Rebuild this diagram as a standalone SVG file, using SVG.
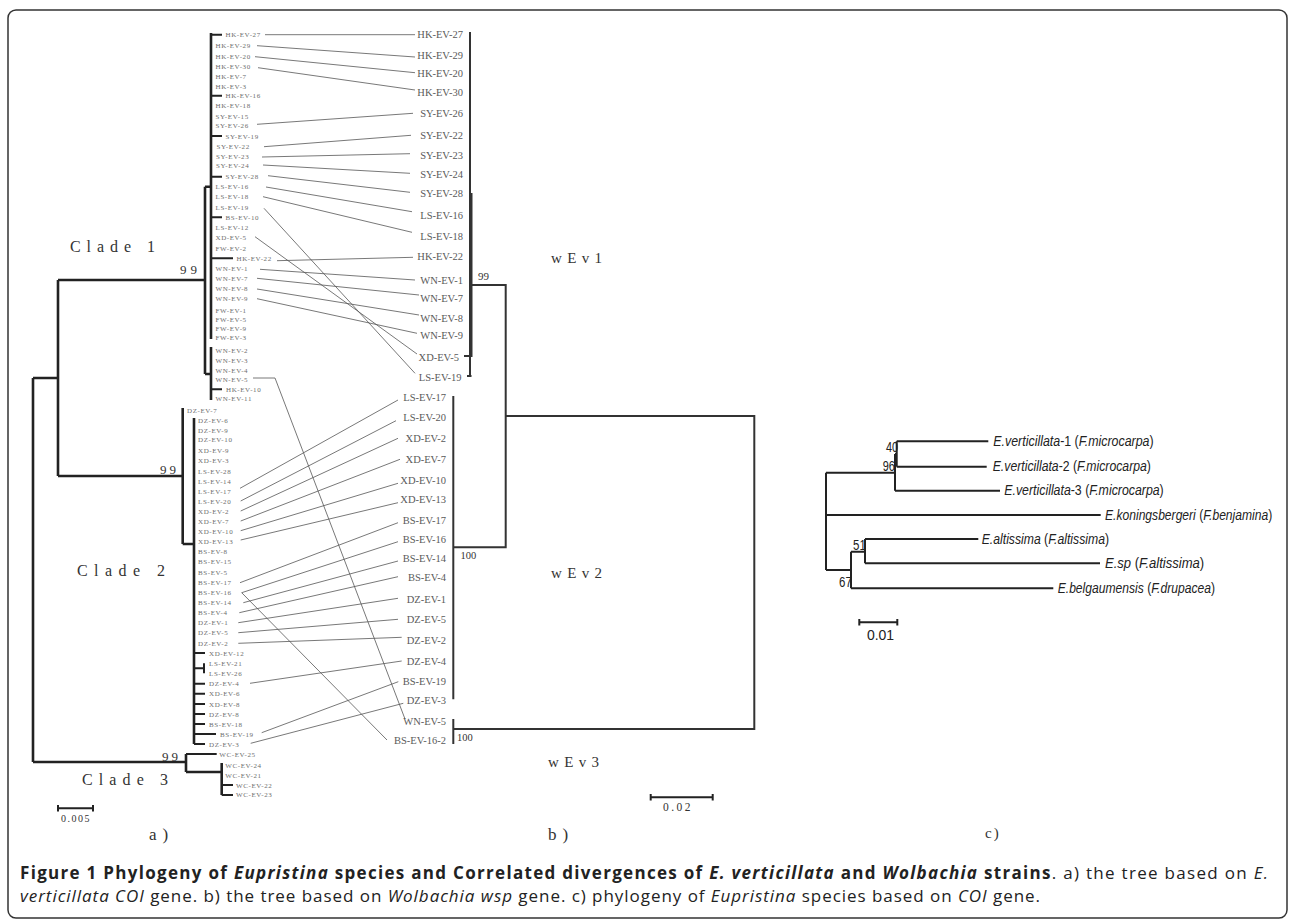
<svg xmlns="http://www.w3.org/2000/svg" width="1290" height="921" viewBox="0 0 1290 921">
<style>
.t{font-family:"Liberation Serif",serif;font-size:7px;fill:#6e6e6e;letter-spacing:0.6px}
.r{font-family:"Liberation Serif",serif;font-size:10.5px;fill:#5a5a5a;text-anchor:end}
.br{stroke:#222;stroke-width:2.6;fill:none}
.bs{stroke:#222;stroke-width:2;fill:none}
.bb{stroke:#333;stroke-width:2;fill:none}
.cn{stroke:#555;stroke-width:0.8;fill:none}
.cl{font-family:"Liberation Serif",serif;font-size:16px;fill:#333}
.bv{font-family:"Liberation Serif",serif;fill:#333}
.c{font-family:"Liberation Sans",Arial,sans-serif;font-size:14px;fill:#222}
.i{font-style:italic}
.cap{font-family:"Open Sans","Noto Sans",sans-serif;font-size:17px;fill:#222}
</style>
<rect x="8" y="10" width="1279" height="908" rx="8" fill="#fff" stroke="#333" stroke-width="1.5"/>

<g id="connectors">
<path class="cn" d="M265,34.7 L415,34.7 M257,45.7 L415,57 M255,56.7 L415,72.7 M258,67.7 L415,90 M257,124.3 L413,113.3 M264,146.7 L411,135.3 M262,157 L410,153.7 M263,165 L410,173.3 M268,175.7 L410,192.3 M266,187 L412,211.7 M263,196.7 L412,232.3 M264,208.3 L415,373.3 M255,236.7 L417,354 M277,260.7 L413,257.3 M260,269.3 L415,280 M257,278.3 L419,295 M257,289 L419,315 M257,298.7 L417,333.3 M253,378 L275,378 L405,719"/>
<path class="cn" d="M240,488.3 L398,400 M240.7,501 L396,420.7 M240.7,511 L398,438.3 M240.7,521 L400,459.3 M240.7,530.7 L398,483.3 M240.7,540 L398,502.7 M240,582.7 L398,522.7 M241.7,592.7 L398,541.7 M241.7,592.7 L387,740 M243.3,602.7 L398,561 M239.3,612.7 L398,576.7 M238.3,622.7 L398,598.3 M238.3,632.7 L398,619.3 M238.3,643.3 L401.7,637.3 M250,683.3 L401.7,661 M261.7,732.7 L398.3,681.7 M250.7,743.3 L403.3,703.3"/>
</g>

<g id="tree-a">
<path class="br" d="M33,378 V762 M33,378 H58 M58,280 V476 M58,280 H205 M205,186.7 V374 M205,186.7 H211 M205,374 H211 M211,33 V339 M211,347 V400"/>
<path class="bs" d="M211,34.7 H222 M211,95.7 H222 M211,136 H222 M211,176.7 H222 M211,217.3 H222 M211,258.3 H233 M211,389.3 H222"/>
<path class="br" d="M58,476 H182.7 M182.7,408 V544 M182.7,544 H194 M194,418 V744"/>
<path class="bs" d="M194,653 H205 M194,668.3 H204 M204,663.3 V673.3 M194,683.7 H205 M194,693.7 H205 M194,704 H205 M194,714 H205 M194,724 H205 M194,734 H216 M194,744 H205"/>
<path class="br" d="M33,762 H186 M186,754 V772 M186,772 H221.7 M221.7,763 V795"/>
<path class="bs" d="M186,754 H216.7 M221.7,785 H233 M221.7,795 H233"/>
</g>

<g id="tree-b">
<path class="bb" d="M470,32 V377"/>
<path class="bb" stroke-width="2.8" d="M471.5,193 V357"/>
<path class="bb" d="M464,356 H471 M467,376 H471.5 M470,285 H505.7 V547.3 H453.3 M453.3,396 V699.3 M453.3,719 V744 M505.7,416 H754.3 V729 H453.3"/>
</g>

<g id="tree-c">
<path class="bs" d="M826,472.7 V570 M826,472.7 H895 M895,454 V490.7 M895,454 H896.7 M896.7,441.3 V466.7 M896.7,441.3 H988.3 M896.7,466.7 H986.7 M895,490.7 H1000 M826,515 H1100.7 M826,570 H851 M851,551.7 V588.3 M851,551.7 H865 M865,539 V563.3 M865,539 H978.3 M865,563.3 H1100 M851,588.3 H1053.3"/>
</g>

<g id="a-labels">
<g id="a-HK-EV-27"><text class="t" x="225.5" y="37.2">HK-EV-27</text></g>
<g id="a-HK-EV-29"><text class="t" x="215.5" y="47.5">HK-EV-29</text></g>
<g id="a-HK-EV-20"><text class="t" x="215.5" y="59.2">HK-EV-20</text></g>
<g id="a-HK-EV-30"><text class="t" x="215.5" y="68.5">HK-EV-30</text></g>
<g id="a-HK-EV-7"><text class="t" x="215.5" y="79.2">HK-EV-7</text></g>
<g id="a-HK-EV-3"><text class="t" x="215.5" y="89.2">HK-EV-3</text></g>
<g id="a-HK-EV-16"><text class="t" x="225.5" y="98.2">HK-EV-16</text></g>
<g id="a-HK-EV-18"><text class="t" x="215.5" y="108.2">HK-EV-18</text></g>
<g id="a-SY-EV-15"><text class="t" x="215.5" y="118.8">SY-EV-15</text></g>
<g id="a-SY-EV-26"><text class="t" x="215.5" y="127.8">SY-EV-26</text></g>
<g id="a-SY-EV-19"><text class="t" x="225.5" y="138.5">SY-EV-19</text></g>
<g id="a-SY-EV-22"><text class="t" x="216.5" y="149.2">SY-EV-22</text></g>
<g id="a-SY-EV-23"><text class="t" x="216" y="158.8">SY-EV-23</text></g>
<g id="a-SY-EV-24"><text class="t" x="216" y="168.2">SY-EV-24</text></g>
<g id="a-SY-EV-28"><text class="t" x="225.5" y="179.2">SY-EV-28</text></g>
<g id="a-LS-EV-16"><text class="t" x="215.5" y="189.2">LS-EV-16</text></g>
<g id="a-LS-EV-18"><text class="t" x="215.5" y="199.2">LS-EV-18</text></g>
<g id="a-LS-EV-19"><text class="t" x="215.5" y="210.2">LS-EV-19</text></g>
<g id="a-BS-EV-10"><text class="t" x="225.5" y="219.8">BS-EV-10</text></g>
<g id="a-LS-EV-12"><text class="t" x="215.5" y="230.2">LS-EV-12</text></g>
<g id="a-XD-EV-5"><text class="t" x="215.5" y="240">XD-EV-5</text></g>
<g id="a-FW-EV-2"><text class="t" x="215.5" y="251.2">FW-EV-2</text></g>
<g id="a-HK-EV-22"><text class="t" x="236.5" y="260.8">HK-EV-22</text></g>
<g id="a-WN-EV-1"><text class="t" x="215.5" y="270.8">WN-EV-1</text></g>
<g id="a-WN-EV-7"><text class="t" x="215.5" y="280.8">WN-EV-7</text></g>
<g id="a-WN-EV-8"><text class="t" x="215.5" y="290.8">WN-EV-8</text></g>
<g id="a-WN-EV-9"><text class="t" x="215.5" y="300.8">WN-EV-9</text></g>
<g id="a-FW-EV-1"><text class="t" x="215.5" y="312.5">FW-EV-1</text></g>
<g id="a-FW-EV-5"><text class="t" x="215.5" y="321.8">FW-EV-5</text></g>
<g id="a-FW-EV-9"><text class="t" x="215.5" y="331.2">FW-EV-9</text></g>
<g id="a-FW-EV-3"><text class="t" x="215.5" y="339.8">FW-EV-3</text></g>
<g id="a-WN-EV-2"><text class="t" x="215.5" y="352.5">WN-EV-2</text></g>
<g id="a-WN-EV-3"><text class="t" x="215.5" y="363.2">WN-EV-3</text></g>
<g id="a-WN-EV-4"><text class="t" x="215.5" y="372.5">WN-EV-4</text></g>
<g id="a-WN-EV-5"><text class="t" x="215.5" y="381.5">WN-EV-5</text></g>
<g id="a-HK-EV-10"><text class="t" x="226" y="391.8">HK-EV-10</text></g>
<g id="a-WN-EV-11"><text class="t" x="215.5" y="401.2">WN-EV-11</text></g>
<g id="a-DZ-EV-7"><text class="t" x="187" y="412.5">DZ-EV-7</text></g>
<g id="a-DZ-EV-6"><text class="t" x="198" y="422.8">DZ-EV-6</text></g>
<g id="a-DZ-EV-9"><text class="t" x="198" y="432.5">DZ-EV-9</text></g>
<g id="a-DZ-EV-10"><text class="t" x="198" y="441.8">DZ-EV-10</text></g>
<g id="a-XD-EV-9"><text class="t" x="198" y="452.8">XD-EV-9</text></g>
<g id="a-XD-EV-3"><text class="t" x="198" y="463.2">XD-EV-3</text></g>
<g id="a-LS-EV-28"><text class="t" x="198" y="473.5">LS-EV-28</text></g>
<g id="a-LS-EV-14"><text class="t" x="198" y="483.8">LS-EV-14</text></g>
<g id="a-LS-EV-17"><text class="t" x="198" y="493.8">LS-EV-17</text></g>
<g id="a-LS-EV-20"><text class="t" x="198" y="503.5">LS-EV-20</text></g>
<g id="a-XD-EV-2"><text class="t" x="198" y="513.8">XD-EV-2</text></g>
<g id="a-XD-EV-7"><text class="t" x="198" y="523.8">XD-EV-7</text></g>
<g id="a-XD-EV-10"><text class="t" x="198" y="533.5">XD-EV-10</text></g>
<g id="a-XD-EV-13"><text class="t" x="198" y="543.5">XD-EV-13</text></g>
<g id="a-BS-EV-8"><text class="t" x="198" y="554.2">BS-EV-8</text></g>
<g id="a-BS-EV-15"><text class="t" x="198" y="563.8">BS-EV-15</text></g>
<g id="a-BS-EV-5"><text class="t" x="198" y="574.5">BS-EV-5</text></g>
<g id="a-BS-EV-17"><text class="t" x="198" y="584.5">BS-EV-17</text></g>
<g id="a-BS-EV-16"><text class="t" x="198" y="594.8">BS-EV-16</text></g>
<g id="a-BS-EV-14"><text class="t" x="198" y="605.2">BS-EV-14</text></g>
<g id="a-BS-EV-4"><text class="t" x="198" y="615.2">BS-EV-4</text></g>
<g id="a-DZ-EV-1"><text class="t" x="198" y="625.2">DZ-EV-1</text></g>
<g id="a-DZ-EV-5"><text class="t" x="198" y="635.2">DZ-EV-5</text></g>
<g id="a-DZ-EV-2"><text class="t" x="198" y="645.5">DZ-EV-2</text></g>
<g id="a-XD-EV-12"><text class="t" x="209" y="655.5">XD-EV-12</text></g>
<g id="a-LS-EV-21"><text class="t" x="209" y="665.8">LS-EV-21</text></g>
<g id="a-LS-EV-26"><text class="t" x="209" y="675.8">LS-EV-26</text></g>
<g id="a-DZ-EV-4"><text class="t" x="209" y="686.2">DZ-EV-4</text></g>
<g id="a-XD-EV-6"><text class="t" x="209" y="696.2">XD-EV-6</text></g>
<g id="a-XD-EV-8"><text class="t" x="209" y="706.5">XD-EV-8</text></g>
<g id="a-DZ-EV-8"><text class="t" x="209" y="716.5">DZ-EV-8</text></g>
<g id="a-BS-EV-18"><text class="t" x="209" y="726.5">BS-EV-18</text></g>
<g id="a-BS-EV-19"><text class="t" x="220" y="736.5">BS-EV-19</text></g>
<g id="a-DZ-EV-3"><text class="t" x="209" y="746.5">DZ-EV-3</text></g>
<g id="a-WC-EV-25"><text class="t" x="219.3" y="756.5">WC-EV-25</text></g>
<g id="a-WC-EV-24"><text class="t" x="225.3" y="767.5">WC-EV-24</text></g>
<g id="a-WC-EV-21"><text class="t" x="225.3" y="777.5">WC-EV-21</text></g>
<g id="a-WC-EV-22"><text class="t" x="236" y="787.5">WC-EV-22</text></g>
<g id="a-WC-EV-23"><text class="t" x="236" y="797.2">WC-EV-23</text></g>
</g>

<g id="b-labels">
<g id="b-HK-EV-27"><text class="r" x="463" y="38">HK-EV-27</text></g>
<g id="b-HK-EV-29"><text class="r" x="463" y="58.7">HK-EV-29</text></g>
<g id="b-HK-EV-20"><text class="r" x="463" y="77">HK-EV-20</text></g>
<g id="b-HK-EV-30"><text class="r" x="463" y="96.4">HK-EV-30</text></g>
<g id="b-SY-EV-26"><text class="r" x="463" y="117">SY-EV-26</text></g>
<g id="b-SY-EV-22"><text class="r" x="463" y="138.7">SY-EV-22</text></g>
<g id="b-SY-EV-23"><text class="r" x="463" y="158.7">SY-EV-23</text></g>
<g id="b-SY-EV-24"><text class="r" x="463" y="178.4">SY-EV-24</text></g>
<g id="b-SY-EV-28"><text class="r" x="463" y="197">SY-EV-28</text></g>
<g id="b-LS-EV-16"><text class="r" x="463" y="218.7">LS-EV-16</text></g>
<g id="b-LS-EV-18"><text class="r" x="463" y="240">LS-EV-18</text></g>
<g id="b-HK-EV-22"><text class="r" x="463" y="259.7">HK-EV-22</text></g>
<g id="b-WN-EV-1"><text class="r" x="463" y="283.7">WN-EV-1</text></g>
<g id="b-WN-EV-7"><text class="r" x="463" y="302">WN-EV-7</text></g>
<g id="b-WN-EV-8"><text class="r" x="463" y="322">WN-EV-8</text></g>
<g id="b-WN-EV-9"><text class="r" x="463" y="339.4">WN-EV-9</text></g>
<g id="b-XD-EV-5"><text class="r" x="459" y="361">XD-EV-5</text></g>
<g id="b-LS-EV-19"><text class="r" x="461.5" y="381">LS-EV-19</text></g>
<g id="b-LS-EV-17"><text class="r" x="446" y="401.4">LS-EV-17</text></g>
<g id="b-LS-EV-20"><text class="r" x="446" y="421">LS-EV-20</text></g>
<g id="b-XD-EV-2"><text class="r" x="446" y="442">XD-EV-2</text></g>
<g id="b-XD-EV-7"><text class="r" x="446" y="462.7">XD-EV-7</text></g>
<g id="b-XD-EV-10"><text class="r" x="446" y="483.7">XD-EV-10</text></g>
<g id="b-XD-EV-13"><text class="r" x="446" y="503">XD-EV-13</text></g>
<g id="b-BS-EV-17"><text class="r" x="446" y="523.7">BS-EV-17</text></g>
<g id="b-BS-EV-16"><text class="r" x="446" y="543">BS-EV-16</text></g>
<g id="b-BS-EV-14"><text class="r" x="446" y="562.4">BS-EV-14</text></g>
<g id="b-BS-EV-4"><text class="r" x="446" y="581">BS-EV-4</text></g>
<g id="b-DZ-EV-1"><text class="r" x="446" y="603">DZ-EV-1</text></g>
<g id="b-DZ-EV-5"><text class="r" x="446" y="623">DZ-EV-5</text></g>
<g id="b-DZ-EV-2"><text class="r" x="446" y="643.7">DZ-EV-2</text></g>
<g id="b-DZ-EV-4"><text class="r" x="446" y="664.7">DZ-EV-4</text></g>
<g id="b-BS-EV-19"><text class="r" x="446" y="684.7">BS-EV-19</text></g>
<g id="b-DZ-EV-3"><text class="r" x="446" y="704.4">DZ-EV-3</text></g>
<g id="b-WN-EV-5"><text class="r" x="446" y="724.7">WN-EV-5</text></g>
<g id="b-BS-EV-16-2"><text class="r" x="446" y="743.7">BS-EV-16-2</text></g>
</g>

<g id="c-labels">
<g id="c-ev1" transform="translate(993.3,446) scale(0.886,1)"><text class="c" x="0" y="0"><tspan class="i">E.verticillata</tspan>-1 (<tspan class="i">F.microcarpa</tspan>)</text></g>
<g id="c-ev2" transform="translate(992.7,471) scale(0.875,1)"><text class="c" x="0" y="0"><tspan class="i">E.verticillata</tspan>-2 (<tspan class="i">F.microcarpa</tspan>)</text></g>
<g id="c-ev3" transform="translate(1004.3,495) scale(0.881,1)"><text class="c" x="0" y="0"><tspan class="i">E.verticillata</tspan>-3 (<tspan class="i">F.microcarpa</tspan>)</text></g>
<g id="c-ek" transform="translate(1105,519.5) scale(0.865,1)"><text class="c" x="0" y="0"><tspan class="i">E.koningsbergeri</tspan> (<tspan class="i">F.benjamina</tspan>)</text></g>
<g id="c-ea" transform="translate(981.7,543.5) scale(0.873,1)"><text class="c" x="0" y="0"><tspan class="i">E.altissima</tspan> (<tspan class="i">F.altissima</tspan>)</text></g>
<g id="c-es" transform="translate(1105,568) scale(0.934,1)"><text class="c" x="0" y="0"><tspan class="i">E.sp</tspan> (<tspan class="i">F.altissima</tspan>)</text></g>
<g id="c-eb" transform="translate(1057.7,593) scale(0.866,1)"><text class="c" x="0" y="0"><tspan class="i">E.belgaumensis</tspan> (<tspan class="i">F.drupacea</tspan>)</text></g>
<g transform="translate(886,451.5) scale(0.78,1)"><text class="c" font-size="12" x="0" y="0">40</text></g>
<g transform="translate(882.7,471) scale(0.78,1)"><text class="c" font-size="12" x="0" y="0">96</text></g>
<g transform="translate(853,549.5) scale(0.82,1)"><text class="c" font-size="12" x="0" y="0">51</text></g>
<g transform="translate(839,587) scale(0.82,1)"><text class="c" font-size="12" x="0" y="0">67</text></g>
</g>

<g id="annotations">
<text class="cl" x="70" y="252" textLength="85" lengthAdjust="spacing">Clade 1</text>
<text class="cl" x="77" y="576" textLength="88" lengthAdjust="spacing">Clade 2</text>
<text class="cl" x="82" y="785" textLength="86" lengthAdjust="spacing">Clade 3</text>
<text class="bv" font-size="13" x="180" y="274" textLength="17" lengthAdjust="spacing">99</text>
<text class="bv" font-size="13" x="160" y="474" textLength="16" lengthAdjust="spacing">99</text>
<text class="bv" font-size="13" x="162" y="761" textLength="16" lengthAdjust="spacing">99</text>
<text class="bv" font-size="11" x="478" y="279.5">99</text>
<text class="bv" font-size="10.5" x="460.5" y="559">100</text>
<text class="bv" font-size="10.5" x="457" y="740.5">100</text>
<text class="bv" font-size="15" x="551" y="263" textLength="51" lengthAdjust="spacing">wEv1</text>
<text class="bv" font-size="15" x="551" y="578" textLength="51" lengthAdjust="spacing">wEv2</text>
<text class="bv" font-size="15" x="548" y="767" textLength="51" lengthAdjust="spacing">wEv3</text>
<path class="bs" d="M58,808.3 H93 M58,805 V811.5 M93,805 V811.5 M650.7,797.3 H712.7 M650.7,794 V800.5 M712.7,794 V800.5 M859.3,622.3 H897.3 M859.3,619 V625.5 M897.3,619 V625.5"/>
<text class="bv" font-size="10" x="76" y="822" text-anchor="middle" letter-spacing="1.5">0.005</text>
<text class="bv" font-size="11.5" x="678" y="811" text-anchor="middle" letter-spacing="2.5">0.02</text>
<text class="c" font-size="11" x="880.5" y="639.5" text-anchor="middle" fill="#444">0.01</text>
<text class="bv" font-size="17" x="149" y="840" letter-spacing="6">a)</text>
<text class="bv" font-size="17" x="548" y="840" letter-spacing="6">b)</text>
<text class="bv" font-size="15" x="985" y="838" letter-spacing="2">c)</text>
</g>

<g id="caption">
<text class="cap" x="20" y="879" textLength="1248" lengthAdjust="spacing"><tspan font-weight="bold">Figure 1 Phylogeny of </tspan><tspan font-weight="bold" font-style="italic">Eupristina</tspan><tspan font-weight="bold"> species and Correlated divergences of </tspan><tspan font-weight="bold" font-style="italic">E. verticillata</tspan><tspan font-weight="bold"> and </tspan><tspan font-weight="bold" font-style="italic">Wolbachia</tspan><tspan font-weight="bold"> strains</tspan>. a) the tree based on <tspan font-style="italic">E.</tspan></text>
<text class="cap" x="20" y="902" textLength="1020" lengthAdjust="spacing"><tspan font-style="italic">verticillata COI</tspan> gene. b) the tree based on <tspan font-style="italic">Wolbachia wsp</tspan> gene. c) phylogeny of <tspan font-style="italic">Eupristina</tspan> species based on <tspan font-style="italic">COI</tspan> gene.</text>
</g>
</svg>
